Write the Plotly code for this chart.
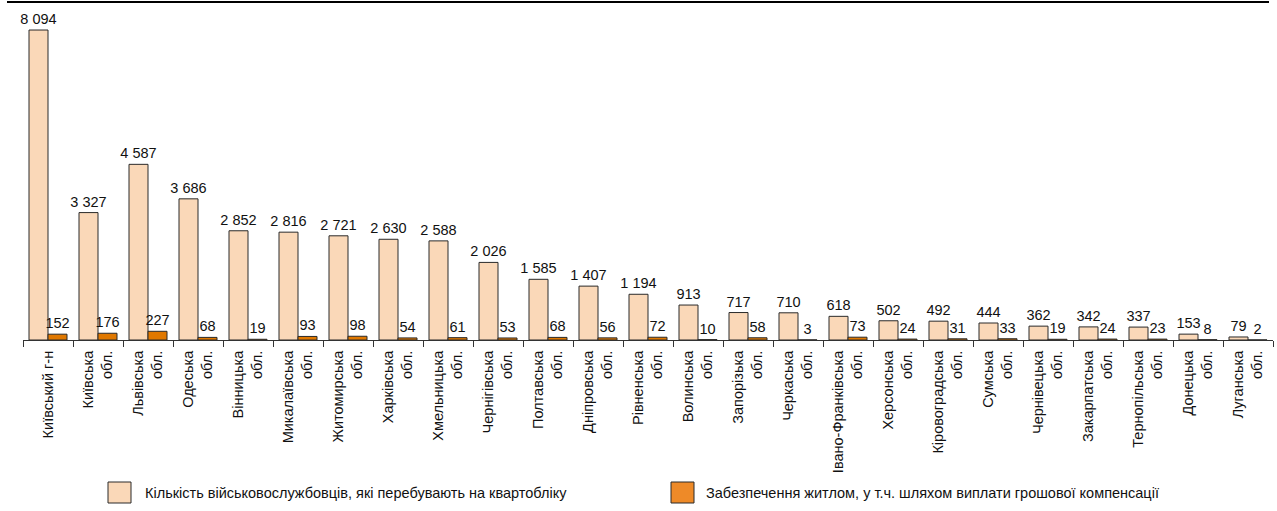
import plotly.graph_objects as go

categories = [
    "Київський г-н", "Київська<br>обл.", "Львівська<br>обл.", "Одеська<br>обл.",
    "Вінницька<br>обл.", "Микалаївська<br>обл.", "Житомирська<br>обл.", "Харківська<br>обл.",
    "Хмельницька<br>обл.", "Чернігівська<br>обл.", "Полтавська<br>обл.", "Дніпровська<br>обл.",
    "Рівненська<br>обл.", "Волинська<br>обл.", "Запорізька<br>обл.", "Черкаська<br>обл.",
    "Івано-Франківська<br>обл.", "Херсонська<br>обл.", "Кіровоградська<br>обл.", "Сумська<br>обл.",
    "Чернівецька<br>обл.", "Закарпатська<br>обл.", "Тернопільська<br>обл.", "Донецька<br>обл.",
    "Луганська<br>обл.",
]
on_register = [8094, 3327, 4587, 3686, 2852, 2816, 2721, 2630, 2588, 2026, 1585, 1407,
               1194, 913, 717, 710, 618, 502, 492, 444, 362, 342, 337, 153, 79]
housed = [152, 176, 227, 68, 19, 93, 98, 54, 61, 53, 68, 56,
          72, 10, 58, 3, 73, 24, 31, 33, 19, 24, 23, 8, 2]
series_names = [
    "Кількість військовослужбовців, які перебувають на квартобліку",
    "Забезпечення житлом, у т.ч. шляхом виплати грошової компенсації",
]

FONT = "Liberation Sans, Arial, sans-serif"
FS = 14.5
PEACH = "#FAD8B8"
ORANGE = "#E07800"
ORANGE_LEG = "#EE8A28"
EDGE = "#2a2a2a"
TXT = "#111111"

W, H = 1277, 511
ML, MR, MT, MB = 23, 4, 2, 171
PW, PH = W - ML - MR, H - MT - MB

fig = go.Figure()
for name, vals, col in [(series_names[0], on_register, PEACH), (series_names[1], housed, ORANGE)]:
    fig.add_trace(go.Bar(
        x=categories, y=vals, name=name,
        marker=dict(color=col, line=dict(color=EDGE, width=1)),
        texttemplate="%{y:,d}", textposition="outside", constraintext="none",
        textfont=dict(family=FONT, size=FS, color=TXT),
        cliponaxis=False, showlegend=False,
    ))

def px_x(px):
    return (px - ML) / PW

def px_y(py):
    return (H - MB - py) / PH

shapes = [
    dict(type="line", xref="paper", yref="paper", x0=px_x(7), x1=px_x(1269),
         y0=px_y(2), y1=px_y(2), line=dict(color="#000", width=2)),
]
annotations = []
for (x0, x1, tx), col, name in [((108, 131, 143), PEACH, series_names[0]),
                                ((671, 694, 704), ORANGE_LEG, series_names[1])]:
    shapes.append(dict(type="rect", xref="paper", yref="paper",
                       x0=px_x(x0), x1=px_x(x1), y0=px_y(503), y1=px_y(482),
                       fillcolor=col, line=dict(color=EDGE, width=1)))
    annotations.append(dict(xref="paper", yref="paper", x=px_x(tx), y=px_y(492.5),
                            xanchor="left", yanchor="middle", showarrow=False, text=name,
                            font=dict(family=FONT, size=FS, color=TXT)))

fig.update_layout(
    width=W, height=H,
    margin=dict(l=ML, r=MR, t=MT, b=MB, pad=0),
    paper_bgcolor="white", plot_bgcolor="white",
    barmode="group", bargap=0.24, bargroupgap=0,
    separators=". ",
    font=dict(family=FONT, size=FS, color=TXT),
    shapes=shapes, annotations=annotations,
    xaxis=dict(tickangle=-90, ticks="outside", tickson="boundaries", ticklen=6,
               tickcolor="#333", showline=True, linecolor="#333", linewidth=1,
               ticklabelstandoff=4,
               showgrid=False, tickfont=dict(family=FONT, size=FS, color=TXT)),
    yaxis=dict(range=[0, 8826], visible=False, showgrid=False, zeroline=False),
)

fig.write_html(
    "out.html",
    config={"displayModeBar": False},
    post_script="document.body.style.margin='0';document.body.style.overflow='hidden';",
)
